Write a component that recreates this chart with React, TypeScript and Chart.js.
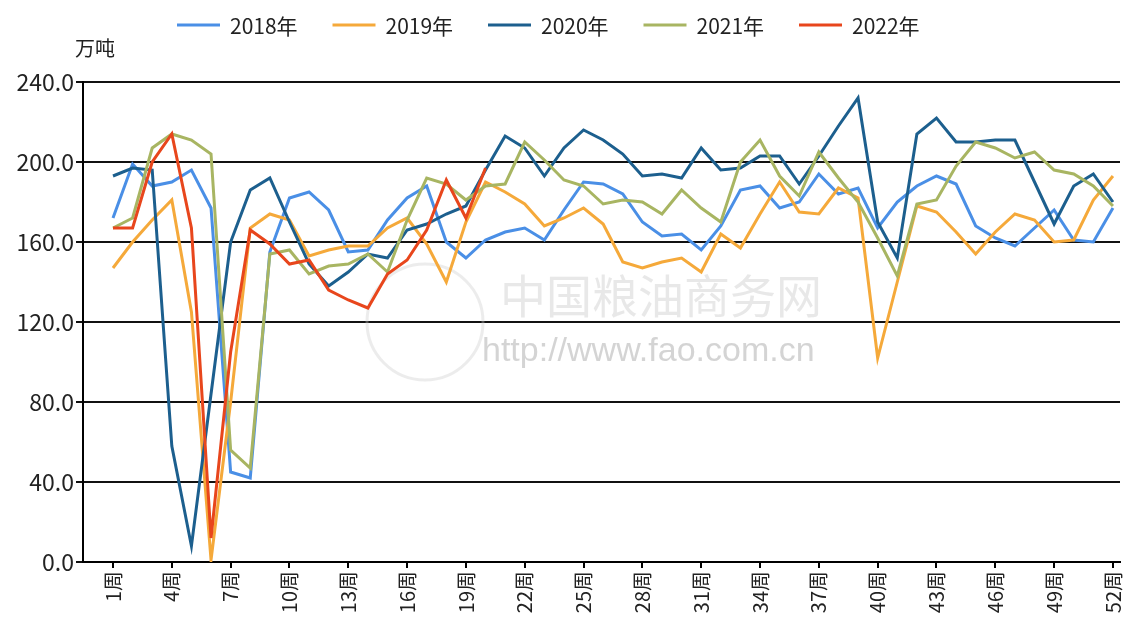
import { useEffect, useRef } from 'react';
import { Chart, registerables } from 'chart.js';

Chart.register(...registerables);

const weeks = [1, 2, 3, 4, 5, 6, 7, 8, 9, 10, 11, 12, 13, 14, 15, 16, 17, 18, 19, 20, 21, 22, 23, 24, 25, 26,
  27, 28, 29, 30, 31, 32, 33, 34, 35, 36, 37, 38, 39, 40, 41, 42, 43, 44, 45, 46, 47, 48, 49, 50, 51, 52];
const tickWeeks = [1, 4, 7, 10, 13, 16, 19, 22, 25, 28, 31, 34, 37, 40, 43, 46, 49, 52];
const tickLabels = ['1周', '4周', '7周', '10周', '13周', '16周', '19周', '22周', '25周', '28周', '31周', '34周',
  '37周', '40周', '43周', '46周', '49周', '52周'];
const yTicks = [0, 40, 80, 120, 160, 200, 240];
const unitLabel = '万吨';

const seriesNames = ['2018年', '2019年', '2020年', '2021年', '2022年'];
const seriesColors = ['#4a8fe6', '#f5a93a', '#1c5f8e', '#a8b562', '#e8461c'];

const s2018 = [172, 199, 188, 190, 196, 177, 45, 42, 155, 182, 185, 176, 155, 156, 171, 182, 188, 160, 152, 161,
  165, 167, 161, 176, 190, 189, 184, 170, 163, 164, 156, 168, 186, 188, 177, 180, 194, 184, 187, 167,
  180, 188, 193, 189, 168, 162, 158, 167, 176, 161, 160, 177];
const s2019 = [147, 160, 171, 181, 125, 1, 80, 167, 174, 171, 153, 156, 158, 158, 167, 172, 159, 140, 170, 190,
  185, 179, 168, 172, 177, 169, 150, 147, 150, 152, 145, 164, 157, 174, 190, 175, 174, 187, 182, 102,
  140, 178, 175, 165, 154, 165, 174, 171, 160, 161, 181, 193];
const s2020 = [193, 197, 196, 58, 8, 84, 160, 186, 192, 170, 149, 138, 145, 154, 152, 166, 169, 174, 178, 196,
  213, 207, 193, 207, 216, 211, 204, 193, 194, 192, 207, 196, 197, 203, 203, 189, 203, 218, 232, 170,
  152, 214, 222, 210, 210, 211, 211, 190, 169, 188, 194, 180];
const s2021 = [167, 172, 207, 214, 211, 204, 56, 47, 154, 156, 144, 148, 149, 154, 145, 171, 192, 189, 181, 188,
  189, 210, 201, 191, 188, 179, 181, 180, 174, 186, 177, 170, 200, 211, 193, 183, 205, 192, 180, 162,
  143, 179, 181, 198, 210, 207, 202, 205, 196, 194, 188, 178];
const s2022 = [167, 167, 200, 214, 167, 12, 105, 166, 159, 149, 151, 136, 131, 127, 144, 151, 166, 191, 172, 197];

const seriesValues = [s2018, s2019, s2020, s2021, s2022];

const FONT = "'Noto Sans CJK SC', 'Liberation Sans', sans-serif";

const overlay = {
  id: 'overlay',
  beforeDatasetsDraw(chart: any) {
    const ctx = chart.ctx;
    ctx.save();
    ctx.strokeStyle = 'rgba(200,200,200,0.35)';
    ctx.lineWidth = 3;
    ctx.beginPath();
    ctx.arc(425, 322, 58, 0, Math.PI * 2);
    ctx.stroke();
    ctx.fillStyle = 'rgba(190,190,190,0.35)';
    ctx.font = `46px ${FONT}`;
    ctx.textBaseline = 'middle';
    ctx.textAlign = 'left';
    ctx.fillText('中国粮油商务网', 500, 296);
    ctx.fillStyle = 'rgba(160,160,160,0.45)';
    ctx.font = `34px 'Liberation Sans', sans-serif`;
    ctx.fillText('http://www.fao.com.cn', 482, 352);
    ctx.restore();
  },
  afterDraw(chart: any) {
    const ctx = chart.ctx;
    ctx.save();
    ctx.textBaseline = 'middle';
    ctx.textAlign = 'left';
    ctx.font = `21px ${FONT}`;
    const start = 177;
    const pitch = 155.5;
    const y = 25;
    seriesNames.forEach((name, i) => {
      const x0 = start + i * pitch;
      ctx.strokeStyle = seriesColors[i];
      ctx.lineWidth = 3;
      ctx.beginPath();
      ctx.moveTo(x0, y);
      ctx.lineTo(x0 + 43, y);
      ctx.stroke();
      ctx.fillStyle = '#222';
      ctx.fillText(name, x0 + 53, y + 1);
    });
    ctx.font = `20px ${FONT}`;
    ctx.fillText(unitLabel, 75, 48);
    ctx.restore();
  },
};

export default function App() {
  const ref = useRef<HTMLCanvasElement>(null);
  useEffect(() => {
    const chart = new Chart(ref.current as HTMLCanvasElement, {
      type: 'line',
      data: {
        datasets: seriesValues.map((vals, i) => ({
          label: seriesNames[i],
          data: vals.map((v, j) => ({ x: weeks[j], y: v })),
          borderColor: seriesColors[i],
          backgroundColor: seriesColors[i],
          borderWidth: 3,
          pointRadius: 0,
          tension: 0,
          fill: false,
          order: seriesValues.length - i,
        })),
      },
      options: {
        responsive: false,
        animation: false,
        layout: { padding: { top: 82, right: 5, left: 0, bottom: 0 } },
        plugins: { legend: { display: false }, tooltip: { enabled: false } },
        scales: {
          x: {
            type: 'linear',
            min: -0.53,
            max: 52.36,
            afterBuildTicks: (s: any) => {
              s.ticks = tickWeeks.map((v) => ({ value: v }));
            },
            afterFit: (s: any) => {
              s.height = 57;
              s.paddingLeft = 0;
              s.paddingRight = 0;
            },
            ticks: {
              autoSkip: false,
              maxRotation: 90,
              minRotation: 90,
              padding: 3,
              color: '#222',
              font: { family: FONT, size: 20 },
              callback: (v: any) => {
                const k = tickWeeks.indexOf(Number(v));
                return k >= 0 ? tickLabels[k] : '';
              },
            },
            grid: { display: true, drawOnChartArea: false, drawTicks: true, tickLength: 6, color: '#000', lineWidth: 2 },
            border: { display: true, color: '#000', width: 2 },
          },
          y: {
            min: 0,
            max: 240,
            afterBuildTicks: (s: any) => {
              s.ticks = yTicks.map((v) => ({ value: v }));
            },
            afterFit: (s: any) => {
              s.width = 83;
            },
            ticks: {
              padding: 2,
              color: '#222',
              font: { family: FONT, size: 23 },
              callback: (v: any) => Number(v).toFixed(1),
            },
            grid: { color: '#111', lineWidth: 2, tickLength: 7 },
            border: { display: true, color: '#000', width: 2 },
          },
        },
      },
      plugins: [overlay],
    } as any);
    return () => chart.destroy();
  }, []);
  return (
    <div style={{ position: 'absolute', left: 0, top: 0, width: 1125, height: 619, background: '#fff' }}>
      <canvas ref={ref} width={1125} height={619} style={{ display: 'block' }} />
    </div>
  );
}
